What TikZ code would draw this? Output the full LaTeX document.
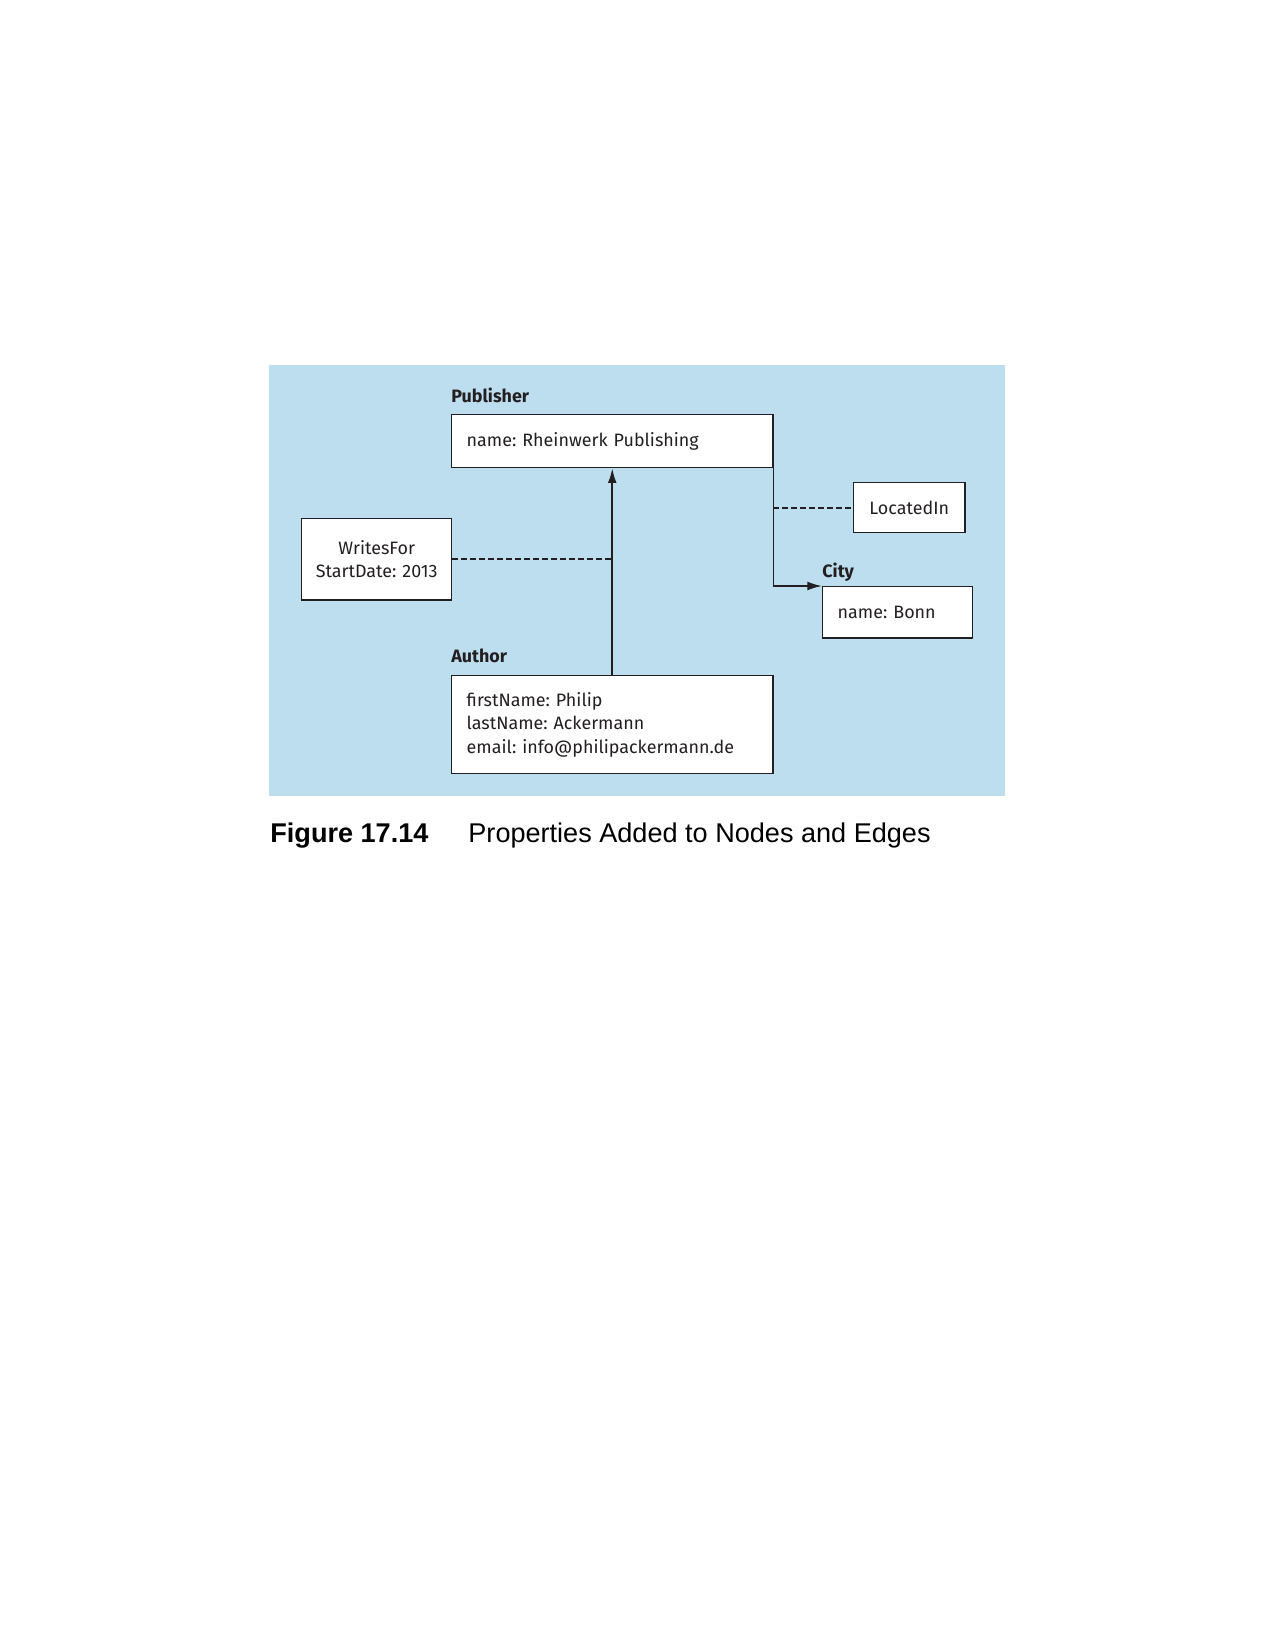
\documentclass[tikz,border=0pt]{standalone}
\usepackage{fontspec}
\setmainfont{Fira Sans}
\newfontfamily\capfont{Liberation Sans}
\usepackage{tikz}
\usetikzlibrary{positioning, arrows.meta}
\frenchspacing

\definecolor{bgblue}{RGB}{189,222,238}
\definecolor{ink}{RGB}{35,31,32}

\tikzset{
    prop/.style={draw=ink, fill=white, line width=0.7pt, anchor=north west,
                 inner xsep=7.2pt, inner ysep=0pt, text=ink,
                 font=\fontsize{8.6pt}{11.2pt}\selectfont},
    lab/.style={anchor=base west, inner sep=0pt, text=ink,
                font=\fontsize{8.6pt}{11pt}\selectfont\bfseries},
    link/.style={draw=ink, line width=0.8pt, -{Latex[length=7pt, width=4.2pt]}},
    dashlink/.style={draw=ink, line width=0.75pt, dash pattern=on 2.8pt off 1.5pt}
}

\begin{document}
\begin{tikzpicture}[x=0.48pt, y=-0.48pt]

    \useasboundingbox (0,0) rectangle (1275,1649);
    \fill[bgblue] (269,365) rectangle (1005,796);

    \node(pub)[prop, minimum width=154.1pt, minimum height=25.4pt, text width=139.7pt, align=left] at (451,414) {name: Rheinwerk Publishing};
    \node(writes)[prop, minimum width=72pt, minimum height=38.9pt, inner xsep=0pt, text width=72pt, align=center] at (301,518) {WritesFor\\StartDate: 2013};
    \node(located)[prop, minimum width=53.3pt, minimum height=24pt, inner xsep=0pt, text width=53.3pt, align=center] at (853,482) {LocatedIn};
    \node(city)[prop, minimum width=72pt, minimum height=24.5pt, text width=57.6pt, align=left] at (822,586) {name: Bonn};
    \node(author)[prop, minimum width=154.1pt, minimum height=47pt, text width=139.7pt, align=left] at (451,675) {firstName: Philip\\lastName: Ackermann\\email: info@philipackermann.de};

    \node(publab)[lab] at ([yshift=5.3pt]pub.north west) {Publisher};
    \node(citylab)[lab] at ([yshift=4.3pt]city.north west) {City};
    \node(authorlab)[lab] at ([yshift=5.8pt]author.north west) {Author};

    \draw[link] (author.north) -- (pub.south);
    \draw[link] (pub.south east) |- (city.north west);
    \draw[dashlink] (writes.east) -- (writes.east -| author.north);
    \draw[dashlink] (located.west -| pub.south east) -- (located.west);

    \node(fig)[anchor=base west, inner sep=0pt, font=\capfont\fontsize{13pt}{15pt}\selectfont\bfseries] at (270,842) {Figure 17.14};
    \node(caption)[anchor=base west, inner sep=0pt, font=\capfont\fontsize{13pt}{15pt}\selectfont] at (468,842) {Properties Added to Nodes and Edges};

\end{tikzpicture}
\end{document}
